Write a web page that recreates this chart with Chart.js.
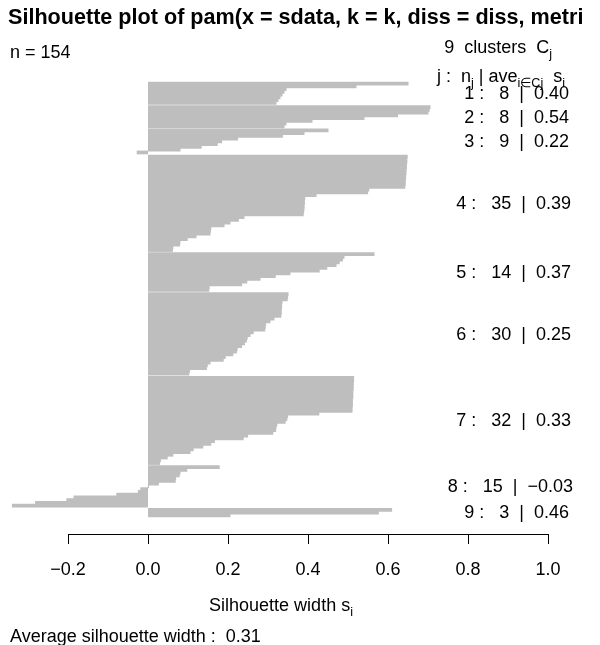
<!DOCTYPE html>
<html>
<head>
<meta charset="utf-8">
<title>Silhouette plot</title>
<script src="https://cdn.jsdelivr.net/npm/chart.js"></script>
<style>
  body { margin: 0; background: #fff; }
  #wrap { width: 600px; height: 645px; position: relative; }
</style>
</head>
<body>
<div id="wrap"><canvas id="silChart"></canvas></div>
<script>
// silhouette widths s_i per cluster, sorted as drawn (top to bottom)
const sil1 = [0.65, 0.52, 0.345, 0.34, 0.335, 0.33, 0.325, 0.32];
const sil2 = [0.705, 0.703, 0.70, 0.624, 0.54, 0.41, 0.345, 0.34];
const sil3 = [0.45, 0.39, 0.336, 0.224, 0.184, 0.173, 0.133, 0.08, -0.027];
const sil4 = [0.648, 0.647, 0.647, 0.646, 0.646, 0.645, 0.645, 0.644, 0.644, 0.643, 0.643, 0.642,
              0.552, 0.549, 0.42, 0.392, 0.391, 0.391, 0.39, 0.39, 0.389, 0.388,
              0.24, 0.226, 0.205, 0.19, 0.157, 0.156, 0.155, 0.12, 0.098, 0.08, 0.079, 0.062, 0.061];
const sil5 = [0.565, 0.49, 0.486, 0.478, 0.47, 0.447, 0.428, 0.355, 0.318, 0.28, 0.247, 0.234, 0.153, 0.152];
const sil6 = [0.35, 0.349, 0.348, 0.335, 0.334, 0.334, 0.333, 0.333, 0.332, 0.315, 0.305, 0.294, 0.293, 0.292,
              0.263, 0.255, 0.248, 0.246, 0.241, 0.234, 0.223, 0.221, 0.212, 0.193, 0.188, 0.155, 0.148, 0.146,
              0.104, 0.102];
const sil7 = [0.514, 0.514, 0.513, 0.513, 0.513, 0.512, 0.512, 0.512, 0.511, 0.511, 0.511, 0.51, 0.51,
              0.427, 0.349, 0.347, 0.343, 0.322, 0.32, 0.319, 0.312, 0.249, 0.238, 0.166, 0.157, 0.137,
              0.113, 0.105, 0.062, 0.048, 0.031, 0.029];
const sil8 = [0.178, 0.097, 0.08, 0.078, 0.069, 0.068, 0.026, 0.001, -0.018, -0.024, -0.078, -0.185, -0.203, -0.281, -0.339];
const sil9 = [0.609, 0.576, 0.205];

const clusterIds = [1, 2, 3, 4, 5, 6, 7, 8, 9];
const clusterAvg = [0.40, 0.54, 0.22, 0.39, 0.37, 0.25, 0.33, -0.03, 0.46];
const xTicks = [-0.2, 0.0, 0.2, 0.4, 0.6, 0.8, 1.0];
const nObs = 154;
const avgWidth = 0.31;
const titleText = 'Silhouette plot of pam(x = sdata, k = k, diss = diss, metri';

const clusters = [sil1, sil2, sil3, sil4, sil5, sil6, sil7, sil8, sil9];

// one unit per bar, half a unit between clusters (like barplot's space)
const barData = [];
const labelPos = [];
let pos = 0;
clusters.forEach((vals, c) => {
  if (c > 0) pos += 0.5;
  const first = pos;
  vals.forEach(v => {
    barData.push({ x: v, y: pos + 0.5 });
    pos += 1;
  });
  labelPos.push((first + pos) / 2);
});
const totalUnits = pos;
const pad = totalUnits * 0.04;

const FONT = '"Liberation Sans", Arial, Helvetica, sans-serif';
const minus = s => s.replace('-', '\u2212');

// text with plotmath-like subscripts
function drawMath(ctx, parts, x, y, size, align) {
  const widths = parts.map(p => {
    ctx.font = (p.sub ? size * 0.7 : size) + 'px ' + FONT;
    return ctx.measureText(p.t).width;
  });
  const total = widths.reduce((a, b) => a + b, 0);
  let cx = align === 'right' ? x - total : align === 'center' ? x - total / 2 : x;
  parts.forEach((p, i) => {
    ctx.font = (p.sub ? size * 0.7 : size) + 'px ' + FONT;
    ctx.fillText(p.t, cx, p.sub ? y + size * 0.25 : y);
    cx += widths[i];
  });
}

const rLook = {
  id: 'rLook',
  afterDraw(chart) {
    const ctx = chart.ctx;
    const xs = chart.scales.x, ys = chart.scales.y;
    ctx.save();

    // axis line only between first and last tick, like R's axis()
    const ay = Math.round(chart.chartArea.bottom) + 0.5;
    ctx.strokeStyle = '#000';
    ctx.lineWidth = 1;
    ctx.beginPath();
    ctx.moveTo(Math.round(xs.getPixelForValue(xTicks[0])), ay);
    ctx.lineTo(Math.round(xs.getPixelForValue(xTicks[xTicks.length - 1])) + 1, ay);
    ctx.stroke();

    ctx.fillStyle = '#000';
    ctx.textBaseline = 'alphabetic';
    ctx.textAlign = 'left';

    ctx.font = 'bold 21.6px ' + FONT;
    ctx.fillText(titleText, 8, 24);

    ctx.font = '18px ' + FONT;
    ctx.fillText('n = ' + nObs, 10, 58);

    drawMath(ctx, [{ t: clusterIds.length + '  clusters  C' }, { t: 'j', sub: true }], 552, 53, 18, 'right');
    drawMath(ctx, [
      { t: 'j :  n' }, { t: 'j', sub: true }, { t: ' | ave' }, { t: 'i\u2208Cj', sub: true },
      { t: '  s' }, { t: 'i', sub: true }
    ], 565, 82, 18, 'right');

    // per-cluster size and average width, anchored at x = 1 with adj = 0.8
    ctx.font = '18px ' + FONT;
    ctx.textBaseline = 'middle';
    const x1 = xs.getPixelForValue(1);
    clusterIds.forEach((id, c) => {
      const s = id + ' :   ' + clusters[c].length + '  |  ' + minus(clusterAvg[c].toFixed(2));
      const w = ctx.measureText(s).width;
      ctx.fillText(s, x1 - 0.8 * w, ys.getPixelForValue(labelPos[c]) + 1);
    });

    ctx.textBaseline = 'alphabetic';
    drawMath(ctx, [{ t: 'Silhouette width s' }, { t: 'i', sub: true }], 281, 611, 18, 'center');

    ctx.font = '18px ' + FONT;
    ctx.fillText('Average silhouette width :  ' + avgWidth.toFixed(2), 10, 642);

    ctx.restore();
  }
};

new Chart(document.getElementById('silChart'), {
  type: 'bar',
  data: {
    datasets: [{
      data: barData,
      backgroundColor: '#bebebe',
      borderWidth: 0,
      inflateAmount: 0.5,
      barPercentage: 1,
      categoryPercentage: 1
    }]
  },
  options: {
    indexAxis: 'y',
    responsive: true,
    maintainAspectRatio: false,
    animation: false,
    layout: { padding: { top: 65, right: 32, left: 0, bottom: 0 } },
    plugins: {
      legend: { display: false },
      tooltip: { enabled: false },
      title: { display: false }
    },
    scales: {
      x: {
        type: 'linear',
        position: 'bottom',
        min: -0.37,
        max: 1.05,
        afterBuildTicks: s => { s.ticks = xTicks.map(v => ({ value: v })); },
        afterFit: s => { s.height = 111; },
        grid: { drawOnChartArea: false, drawTicks: true, tickLength: 10, color: '#000', lineWidth: 1 },
        border: { display: false },
        ticks: {
          color: '#000',
          font: { family: FONT, size: 18 },
          padding: 15,
          maxRotation: 0,
          autoSkip: false,
          callback: v => minus(v.toFixed(1))
        }
      },
      y: {
        type: 'linear',
        reverse: true,
        offset: false,
        min: -pad,
        max: totalUnits + pad,
        display: false,
        grid: { offset: false }
      }
    }
  },
  plugins: [rLook]
});
</script>
</body>
</html>
